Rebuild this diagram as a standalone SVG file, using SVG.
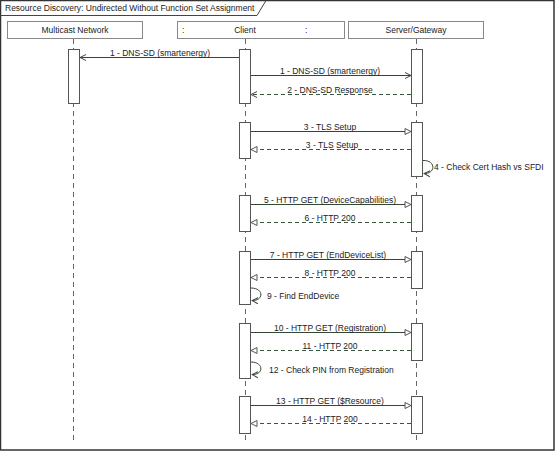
<svg xmlns="http://www.w3.org/2000/svg" width="555" height="451" viewBox="0 0 555 451">
<defs>
<style>
text{font-family:"Liberation Sans",Arial,sans-serif;font-size:8.5px;fill:#222}
.head{fill:#fff;stroke:#888;stroke-width:1}
.life{stroke:#666;stroke-width:1;stroke-dasharray:5,4;fill:none}
.act{fill:#fff;stroke:#555;stroke-width:1}
.msg{stroke:#2f4a2f;stroke-width:1;fill:none}
.ret{stroke:#3d553d;stroke-width:1;fill:none;stroke-dasharray:4,3}
.mid{text-anchor:middle}
</style>
<marker id="v" viewBox="0 0 8 8" refX="7" refY="4" markerWidth="8" markerHeight="8" markerUnits="userSpaceOnUse" orient="auto">
<path d="M1,1 L7,4 L1,7" fill="none" stroke="#444" stroke-width="1"/>
</marker>
<marker id="t" viewBox="0 0 8 8" refX="7" refY="4" markerWidth="8" markerHeight="8" markerUnits="userSpaceOnUse" orient="auto">
<path d="M1,1 L7,4 L1,7 Z" fill="#fff" stroke="#555" stroke-width="1"/>
</marker>
</defs>
<rect x="0" y="0" width="555" height="451" fill="#fff"/>
<rect x="0.5" y="0.5" width="553.5" height="449.5" fill="none" stroke="#333" stroke-width="1.5"/>
<g id="frame-title">
<path d="M0.5,15.5 H257 L266,0.5" fill="none" stroke="#444" stroke-width="1"/>
<text x="5" y="11">Resource Discovery: Undirected Without Function Set Assignment</text>
</g>
<g id="lifelines">
<line class="life" x1="73.5" y1="39" x2="73.5" y2="442"/>
<line class="life" x1="245.5" y1="39" x2="245.5" y2="442"/>
<line class="life" x1="416.5" y1="39" x2="416.5" y2="442"/>
</g>
<g id="multicast-network">
<rect class="head" x="7.5" y="21.5" width="135" height="17"/>
<text class="mid" x="75" y="33">Multicast Network</text>
<rect class="act" x="68.5" y="49.5" width="11" height="54"/>
</g>
<g id="client">
<rect class="head" x="177.5" y="21.5" width="167" height="17"/>
<text x="182" y="33">:</text>
<text class="mid" x="245" y="33">Client</text>
<text x="305" y="33">:</text>
<rect class="act" x="239.5" y="49.5" width="11" height="54"/>
<rect class="act" x="239.5" y="122.5" width="11" height="36"/>
<rect class="act" x="239.5" y="195.5" width="11" height="36"/>
<rect class="act" x="239.5" y="251.5" width="11" height="53"/>
<rect class="act" x="239.5" y="323.5" width="11" height="55"/>
<rect class="act" x="239.5" y="396.5" width="11" height="37"/>
</g>
<g id="server-gateway">
<rect class="head" x="348.5" y="21.5" width="135" height="17"/>
<text class="mid" x="416" y="33">Server/Gateway</text>
<rect class="act" x="411.5" y="49.5" width="11" height="54"/>
<rect class="act" x="411.5" y="122.5" width="11" height="54"/>
<rect class="act" x="411.5" y="195.5" width="11" height="36"/>
<rect class="act" x="411.5" y="251.5" width="11" height="37"/>
<rect class="act" x="411.5" y="323.5" width="11" height="37"/>
<rect class="act" x="411.5" y="396.5" width="11" height="37"/>
</g>
<g id="connectors">
<line class="msg" x1="239" y1="57.5" x2="80" y2="57.5" marker-end="url(#v)"/>
<text class="mid" x="160" y="55.5">1 - DNS-SD (smartenergy)</text>
<line class="msg" x1="251" y1="75.5" x2="411" y2="75.5" marker-end="url(#v)"/>
<text class="mid" x="330" y="73.5">1 - DNS-SD (smartenergy)</text>
<line class="ret" x1="411" y1="94.5" x2="251" y2="94.5" marker-end="url(#v)"/>
<text class="mid" x="330" y="92.5">2 - DNS-SD Response</text>
<line class="msg" x1="251" y1="131.5" x2="411" y2="131.5" marker-end="url(#t)"/>
<text class="mid" x="330" y="129.5">3 - TLS Setup</text>
<line class="ret" x1="411" y1="149.5" x2="251" y2="149.5" marker-end="url(#t)"/>
<text class="mid" x="332" y="147.5">3 - TLS Setup</text>
<path class="msg" d="M423,160.5 C436,160 436,174 424,173.5" marker-end="url(#v)"/>
<text x="434" y="170">4 - Check Cert Hash vs SFDI</text>
<line class="msg" x1="251" y1="204.5" x2="411" y2="204.5" marker-end="url(#t)"/>
<text class="mid" x="330" y="202.5">5 - HTTP GET (DeviceCapabilities)</text>
<line class="ret" x1="411" y1="222.5" x2="251" y2="222.5" marker-end="url(#t)"/>
<text class="mid" x="330" y="220.5">6 - HTTP 200</text>
<line class="msg" x1="251" y1="259.5" x2="411" y2="259.5" marker-end="url(#t)"/>
<text class="mid" x="328" y="257.5">7 - HTTP GET (EndDeviceList)</text>
<line class="ret" x1="411" y1="277.5" x2="251" y2="277.5" marker-end="url(#t)"/>
<text class="mid" x="330" y="275.5">8 - HTTP 200</text>
<path class="msg" d="M251,288 C264,288 264,301 252,300.5" marker-end="url(#v)"/>
<text x="267" y="299">9 - Find EndDevice</text>
<line class="msg" x1="251" y1="332.5" x2="411" y2="332.5" marker-end="url(#t)"/>
<text class="mid" x="330" y="330.5">10 - HTTP GET (Registration)</text>
<line class="ret" x1="411" y1="350.5" x2="251" y2="350.5" marker-end="url(#t)"/>
<text class="mid" x="330" y="348.5">11 - HTTP 200</text>
<path class="msg" d="M251,362 C264,362 264,375 252,374.5" marker-end="url(#v)"/>
<text x="269" y="373">12 - Check PIN from Registration</text>
<line class="msg" x1="251" y1="405.5" x2="411" y2="405.5" marker-end="url(#t)"/>
<text class="mid" x="330" y="403.5">13 - HTTP GET ($Resource)</text>
<line class="ret" x1="411" y1="423.5" x2="251" y2="423.5" marker-end="url(#t)"/>
<text class="mid" x="330" y="421.5">14 - HTTP 200</text>
</g>
</svg>
